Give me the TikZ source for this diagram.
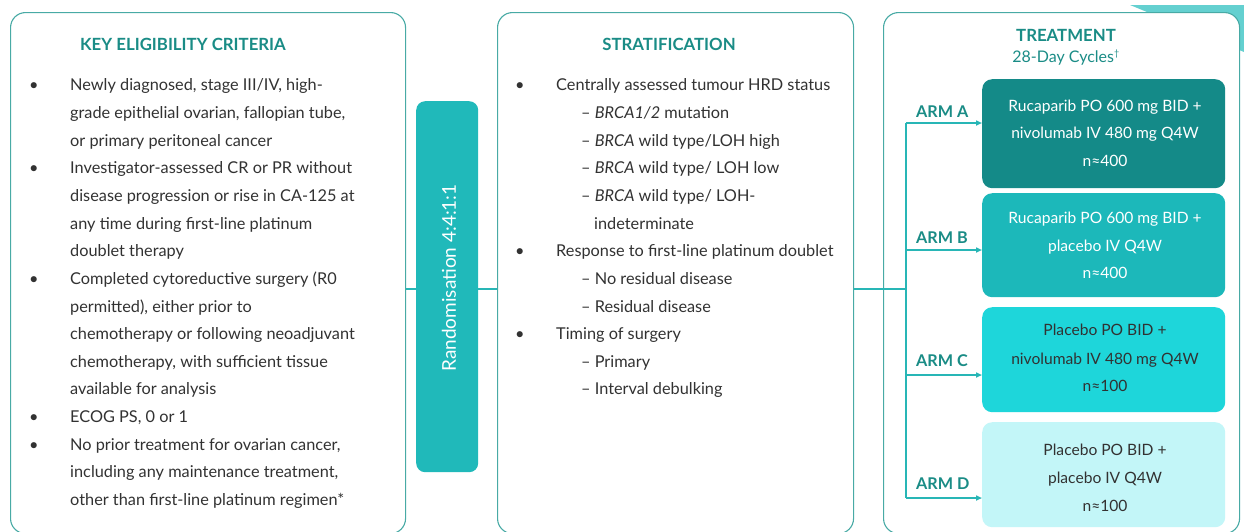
\documentclass[tikz,border=0pt]{standalone}
\usepackage{fontspec}
\setmainfont{Lato}
\usetikzlibrary{arrows.meta}
\definecolor{panelc}{RGB}{72,170,165}
\definecolor{connc}{RGB}{40,182,182}
\definecolor{headc}{RGB}{26,140,134}
\definecolor{bodyc}{RGB}{50,50,50}
\definecolor{randc}{RGB}{32,185,186}
\definecolor{armac}{RGB}{20,138,136}
\definecolor{armbc}{RGB}{28,184,186}
\definecolor{armcc}{RGB}{30,214,218}
\definecolor{armdc}{RGB}{195,246,248}
\definecolor{decoc}{RGB}{100,208,208}
\tikzset{
  panel/.style={draw=panelc, line width=1.1pt, fill=white, rounded corners=15pt, anchor=north west, inner sep=0pt},
  armbox/.style={rounded corners=10pt, anchor=north west, inner sep=0pt, minimum width=243pt},
  conn/.style={draw=connc, line width=1.6pt},
  arr/.style={conn, -{Triangle[length=6pt,width=5pt]}},
  txt/.style={anchor=base west, inner sep=0pt, text=bodyc, font=\fontsize{16.3}{19}\selectfont},
  ctxt/.style={anchor=base, inner sep=0pt, font=\fontsize{15.6}{18}\selectfont},
  head/.style={anchor=base, inner sep=0pt, text=headc, font=\fontsize{16.8}{19}\selectfont\bfseries},
  armlab/.style={anchor=base west, inner sep=0pt, text=headc, font=\fontsize{16.2}{19}\selectfont\bfseries},
}
\newcommand\yy[1]{\fpeval{85+27.65*(#1)+5.8}}
\begin{document}
\begin{tikzpicture}[x=1pt,y=-1pt]
\clip (0,0) rectangle (1244,531);
\useasboundingbox (0,0) rectangle (1244,531);
% background decoration
\fill[decoc] (1130,5) -- (1244,5) -- (1244,52) -- cycle;
% panels
\node[panel, minimum width=395pt, minimum height=521pt] (crit) at (10,12) {};
\node[panel, minimum width=356pt, minimum height=521pt] (strat) at (497,12) {};
\node[panel, minimum width=356pt, minimum height=521pt] (treat) at (883,12) {};
% randomisation
\node[fill=randc, rounded corners=9pt, anchor=north west, minimum width=62pt, minimum height=371pt, inner sep=0pt] (rand) at (416,101) {};
\node[rotate=90, text=white, font=\fontsize{19}{22}\selectfont, inner sep=0pt] (randtxt) at (449,278) {Randomisation 4:4:1:1};
% connectors
\coordinate (hy) at (0,289);
\coordinate (trunk) at (906,289);
\coordinate (ta) at (906,123);
\coordinate (tb) at (906,250);
\coordinate (tc) at (906,375);
\coordinate (td) at (906,498);
\draw[conn] (crit.east |- hy) -- (rand.west |- hy);
\draw[conn] (rand.east |- hy) -- (strat.west |- hy);
\draw[conn] (strat.east |- hy) -- (trunk);
\draw[conn] (ta) -- (td);
% arm boxes
\node[armbox, fill=armac, minimum height=109pt] (armA) at (982,79) {};
\node[armbox, fill=armbc, minimum height=104pt] (armB) at (982,193) {};
\node[armbox, fill=armcc, minimum height=105pt] (armC) at (982,307) {};
\node[armbox, fill=armdc, minimum height=105pt] (armD) at (982,422) {};
\draw[arr] (ta) -- (ta -| armA.west);
\draw[arr] (tb) -- (tb -| armB.west);
\draw[arr] (tc) -- (tc -| armC.west);
\draw[arr] (td) -- (td -| armD.west);
% arm labels
\node[armlab] (la) at (916,117) {ARM A};
\node[armlab] (lb) at (916,243) {ARM B};
\node[armlab] (lc) at (916,366) {ARM C};
\node[armlab] (ld) at (916,489) {ARM D};
% arm texts
\node[ctxt, text=white] (a1) at (1105,111.5) {Rucaparib PO 600 mg BID +};
\node[ctxt, text=white] (a2) at (1105,138.5) {nivolumab IV 480 mg Q4W};
\node[ctxt, text=white] (a3) at (1105,166.5) {n≈400};
\node[ctxt, text=white] (b1) at (1105,223.5) {Rucaparib PO 600 mg BID +};
\node[ctxt, text=white] (b2) at (1105,251.5) {placebo IV Q4W};
\node[ctxt, text=white] (b3) at (1105,278.5) {n≈400};
\node[ctxt, text=bodyc] (c1) at (1105,335.5) {Placebo PO BID +};
\node[ctxt, text=bodyc] (c2) at (1105,364.5) {nivolumab IV 480 mg Q4W};
\node[ctxt, text=bodyc] (c3) at (1105,391.5) {n≈100};
\node[ctxt, text=bodyc] (d1) at (1105,455.5) {Placebo PO BID +};
\node[ctxt, text=bodyc] (d2) at (1105,483.5) {placebo IV Q4W};
\node[ctxt, text=bodyc] (d3) at (1105,511.5) {n≈100};
% headers
\node[head] (h1) at (183,50) {KEY ELIGIBILITY CRITERIA};
\node[head] (h2) at (669,50) {STRATIFICATION};
\node[head] (h3) at (1066,41) {TREATMENT};
\node[anchor=base, inner sep=0pt, text=headc, font=\fontsize{16}{19}\selectfont] (h4) at (1066,62.5) {28-Day Cycles\textsuperscript{\fontsize{9}{10}\selectfont†}};
% left list
\node[txt] (kb1) at (29,\yy{0}) {•};
\node[txt] (k1) at (70,\yy{0}) {Newly diagnosed, stage III/IV, high-};
\node[txt] (k2) at (70,\yy{1}) {grade epithelial ovarian, fallopian tube,};
\node[txt] (k3) at (70,\yy{2}) {or primary peritoneal cancer};
\node[txt] (kb2) at (29,\yy{3}) {•};
\node[txt] (k4) at (70,\yy{3}) {Investigator-assessed CR or PR without};
\node[txt] (k5) at (70,\yy{4}) {disease progression or rise in CA-125 at};
\node[txt] (k6) at (70,\yy{5}) {any time during first-line platinum};
\node[txt] (k7) at (70,\yy{6}) {doublet therapy};
\node[txt] (kb3) at (29,\yy{7}) {•};
\node[txt] (k8) at (70,\yy{7}) {Completed cytoreductive surgery (R0};
\node[txt] (k9) at (70,\yy{8}) {permitted), either prior to};
\node[txt] (k10) at (70,\yy{9}) {chemotherapy or following neoadjuvant};
\node[txt] (k11) at (70,\yy{10}) {chemotherapy, with sufficient tissue};
\node[txt] (k12) at (70,\yy{11}) {available for analysis};
\node[txt] (kb4) at (29,\yy{12}) {•};
\node[txt] (k13) at (70,\yy{12}) {ECOG PS, 0 or 1};
\node[txt] (kb5) at (29,\yy{13}) {•};
\node[txt] (k14) at (70,\yy{13}) {No prior treatment for ovarian cancer,};
\node[txt] (k15) at (70,\yy{14}) {including any maintenance treatment,};
\node[txt] (k16) at (70,\yy{15}) {other than first-line platinum regimen*};
% middle list
\node[txt] (sb1) at (515,\yy{0}) {•};
\node[txt] (s1) at (556,\yy{0}) {Centrally assessed tumour HRD status};
\node[txt] (s2) at (581,\yy{1}) {– \textit{BRCA1/2} mutation};
\node[txt] (s3) at (581,\yy{2}) {– \textit{BRCA} wild type/LOH high};
\node[txt] (s4) at (581,\yy{3}) {– \textit{BRCA} wild type/ LOH low};
\node[txt] (s5) at (581,\yy{4}) {– \textit{BRCA} wild type/ LOH-};
\node[txt] (s6) at (594,\yy{5}) {indeterminate};
\node[txt] (sb2) at (515,\yy{6}) {•};
\node[txt] (s7) at (556,\yy{6}) {Response to first-line platinum doublet};
\node[txt] (s8) at (581,\yy{7}) {– No residual disease};
\node[txt] (s9) at (581,\yy{8}) {– Residual disease};
\node[txt] (sb3) at (515,\yy{9}) {•};
\node[txt] (s10) at (556,\yy{9}) {Timing of surgery};
\node[txt] (s11) at (581,\yy{10}) {– Primary};
\node[txt] (s12) at (581,\yy{11}) {– Interval debulking};
\end{tikzpicture}
\end{document}
